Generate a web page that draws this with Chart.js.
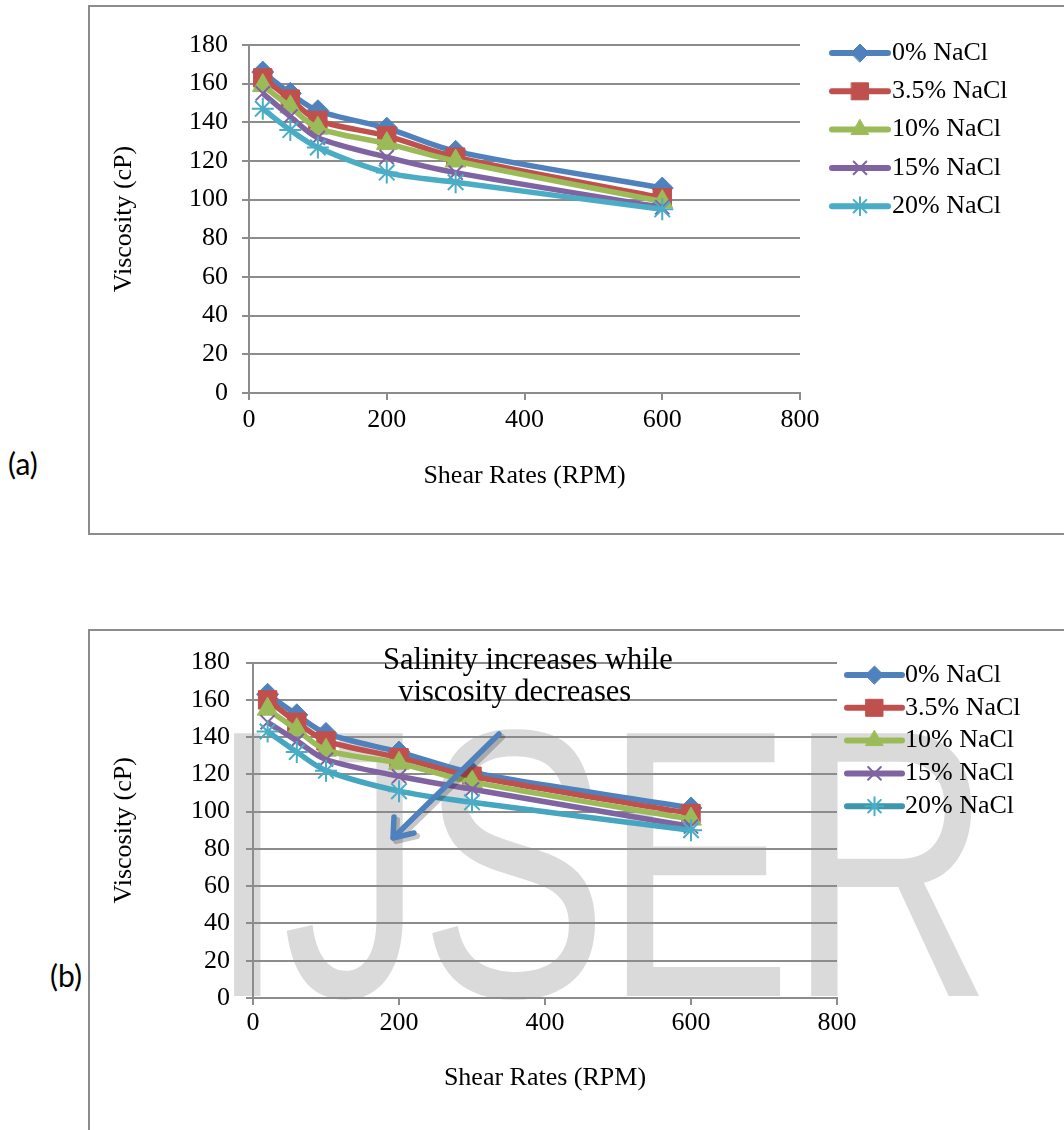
<!DOCTYPE html>
<html>
<head>
<meta charset="utf-8">
<script src="https://cdn.jsdelivr.net/npm/chart.js@4.4.1/dist/chart.umd.min.js"></script>
<style>
  html, body { margin: 0; padding: 0; width: 1064px; height: 1130px; overflow: hidden; background: #fff; }
  .box { position: absolute; border: 2px solid #8c8c8c; box-sizing: border-box; }
  .cv { position: absolute; }
  .tag { position: absolute; font-family: Lato, "Noto Sans", sans-serif; font-size: 30px; color: #000; line-height: 1; }
  #wm { position: absolute; left: 208px; top: 673px; font-family: "Liberation Sans", Arial, sans-serif;
        font-size: 382px; line-height: 1; color: #dadada; white-space: nowrap;
        transform: scaleX(0.74); transform-origin: 0 0; letter-spacing: -0.015em; }
  #note { position: absolute; left: 383px; top: 643px; font-family: "Liberation Serif", "Times New Roman", serif;
          font-size: 30.5px; line-height: 32px; color: #000; }
  #arrow { position: absolute; left: 0; top: 0; }
</style>
</head>
<body>
<div class="box" style="left:88px; top:5px; width:1000px; height:530px;"></div>
<div class="box" style="left:88px; top:629px; width:1000px; height:560px;"></div>
<div id="wm">IJSER</div>
<canvas id="chartA" class="cv" style="left:90px; top:7px;" width="974" height="524"></canvas>
<canvas id="chartB" class="cv" style="left:90px; top:631px;" width="974" height="499"></canvas>
<div class="tag" style="left:8px; top:448px;">(a)</div>
<div class="tag" style="left:50px; top:960px;">(b)</div>
<div id="note">Salinity increases while<br>&nbsp;&nbsp;viscosity decreases</div>
<svg id="arrow" width="1064" height="1130">
  <g fill="none" stroke-linecap="round" stroke-linejoin="round">
    <path d="M502 737 L396 841 M397 820 L396 841 L417 836" stroke="rgba(0,0,0,0.22)" stroke-width="6"/>
    <path d="M499 734 L393 838 M394 817 L393 838 L414 833" stroke="#4F81BD" stroke-width="5.5"/>
  </g>
</svg>
<script>
// shear rate (RPM) on x, viscosity (cP) on y
const shearRates = [20, 60, 100, 200, 300, 600];
const seriesNames = ['0% NaCl', '3.5% NaCl', '10% NaCl', '15% NaCl', '20% NaCl'];
const xTicks = [0, 200, 400, 600, 800];
const yTicks = [0, 20, 40, 60, 80, 100, 120, 140, 160, 180];

// chart (a)
const viscA_0 = [166, 155, 146, 137, 125, 106];
const viscA_35 = [163, 152, 141, 133, 122, 101];
const viscA_10 = [159, 148, 137, 129, 120, 99];
const viscA_15 = [155, 143, 132, 122, 114, 96];
const viscA_20 = [147, 136, 127, 114, 109, 95];

// chart (b)
const viscB_0 = [163, 152, 142, 132, 121, 102];
const viscB_35 = [160, 148, 138, 129, 119, 99];
const viscB_10 = [155, 144, 133, 126, 116, 96];
const viscB_15 = [148, 138, 128, 119, 112, 92];
const viscB_20 = [143, 132, 122, 111, 105, 90];

const colors = ['#4F81BD', '#C0504D', '#9BBB59', '#8064A2', '#4BACC6'];
const markers = ['rectRot', 'rect', 'triangle', 'crossRot', 'star'];
const markerSize = [11, 13, 12, 10, 11];
const legendSize = [9, 12, 10, 9, 9];

const serif = "'Liberation Serif', 'Times New Roman', serif";
const gridColor = '#8c8c8c';

function makeDatasets(seriesList, lineColors) {
  return seriesList.map((vals, i) => {
    const hollow = markers[i] === 'crossRot' || markers[i] === 'star';
    return {
      label: seriesNames[i],
      data: shearRates.map((x, j) => ({ x: x, y: vals[j] })),
      borderColor: lineColors[i],
      borderWidth: 5.5,
      tension: 0.3,
      pointStyle: markers[i],
      pointRadius: markerSize[i],
      legendRadius: legendSize[i],
      pointBackgroundColor: colors[i],
      pointBorderColor: colors[i],
      pointBorderWidth: hollow ? 2 : 1,
      order: seriesList.length - i   // later series drawn on top, like Excel
    };
  });
}

// legend with a line stub and a marker, like the office chart
const lineLegend = {
  id: 'lineLegend',
  afterDraw(chart, args, opts) {
    const ctx = chart.ctx;
    chart.data.datasets.forEach((ds, i) => {
      const y = opts.top + i * opts.step;
      ctx.save();
      ctx.strokeStyle = opts.lineColors[i];
      ctx.lineWidth = 6;
      ctx.lineCap = 'round';
      ctx.beginPath();
      ctx.moveTo(opts.x0, y);
      ctx.lineTo(opts.x1, y);
      ctx.stroke();
      ctx.fillStyle = ds.pointBackgroundColor;
      ctx.strokeStyle = ds.pointBorderColor;
      ctx.lineWidth = ds.pointBorderWidth;
      Chart.helpers.drawPoint(ctx, {
        pointStyle: ds.pointStyle, radius: ds.legendRadius,
        borderWidth: ds.pointBorderWidth, rotation: 0
      }, (opts.x0 + opts.x1) / 2, y);
      ctx.fillStyle = '#000';
      ctx.font = opts.font;
      ctx.textAlign = 'left';
      ctx.textBaseline = 'middle';
      ctx.fillText(ds.label, opts.x1 + opts.gap, y);
      ctx.restore();
    });
  }
};

function makeChart(id, seriesList, lineColors, lay) {
  return new Chart(document.getElementById(id), {
    type: 'line',
    data: { datasets: makeDatasets(seriesList, lineColors) },
    plugins: [lineLegend],
    options: {
      responsive: false,
      animation: false,
      layout: { padding: { left: 0, right: lay.padRight, top: lay.padTop, bottom: 0 } },
      plugins: {
        legend: { display: false },
        tooltip: { enabled: false },
        lineLegend: lay.legend
      },
      scales: {
        x: {
          type: 'linear',
          min: 0, max: 800,
          afterBuildTicks: s => { s.ticks = xTicks.map(v => ({ value: v })); },
          afterFit: s => { s.height = lay.xHeight; },
          grid: { drawOnChartArea: false, color: gridColor, lineWidth: 2, tickLength: 7 },
          border: { color: gridColor, width: 2 },
          ticks: { color: '#000', font: { family: serif, size: 26 }, padding: lay.xTickPad, maxRotation: 0 },
          title: { display: true, text: 'Shear Rates (RPM)', color: '#000',
                   font: { family: serif, size: 26 }, padding: { bottom: lay.xTitlePad } }
        },
        y: {
          min: 0, max: 180,
          afterBuildTicks: s => { s.ticks = yTicks.map(v => ({ value: v })); },
          afterFit: s => { s.width = lay.yWidth; },
          grid: { color: gridColor, lineWidth: 2, tickLength: 7 },
          border: { color: gridColor, width: 2 },
          ticks: { color: '#000', font: { family: serif, size: 26 }, padding: lay.yTickPad },
          title: { display: true, text: 'Viscosity (cP)', color: '#000',
                   font: { family: serif, size: 26 }, padding: { top: 19 } }
        }
      }
    }
  });
}

makeChart('chartA', [viscA_0, viscA_35, viscA_10, viscA_15, viscA_20], colors, {
  padRight: 264, padTop: 38, xHeight: 138, yWidth: 159,
  xTickPad: 5, xTitlePad: 39, yTickPad: 14,
  legend: { x0: 742, x1: 798, top: 46, step: 38.3, gap: 4, font: '26px ' + serif, lineColors: colors }
});

const colorsB = ['#4F81BD', '#C0504D', '#9BBB59', '#8064A2', '#46A6BF'];
makeChart('chartB', [viscB_0, viscB_35, viscB_10, viscB_15, viscB_20], colorsB, {
  padRight: 227, padTop: 29, xHeight: 132, yWidth: 163,
  xTickPad: 3, xTitlePad: 36, yTickPad: 16,
  legend: { x0: 757, x1: 812, top: 44, step: 32.8, gap: 3, font: '26px ' + serif,
            lineColors: ['#4F81BD', '#C0504D', '#9BBB59', '#8064A2', '#3C97AD'] }
});
</script>
</body>
</html>
